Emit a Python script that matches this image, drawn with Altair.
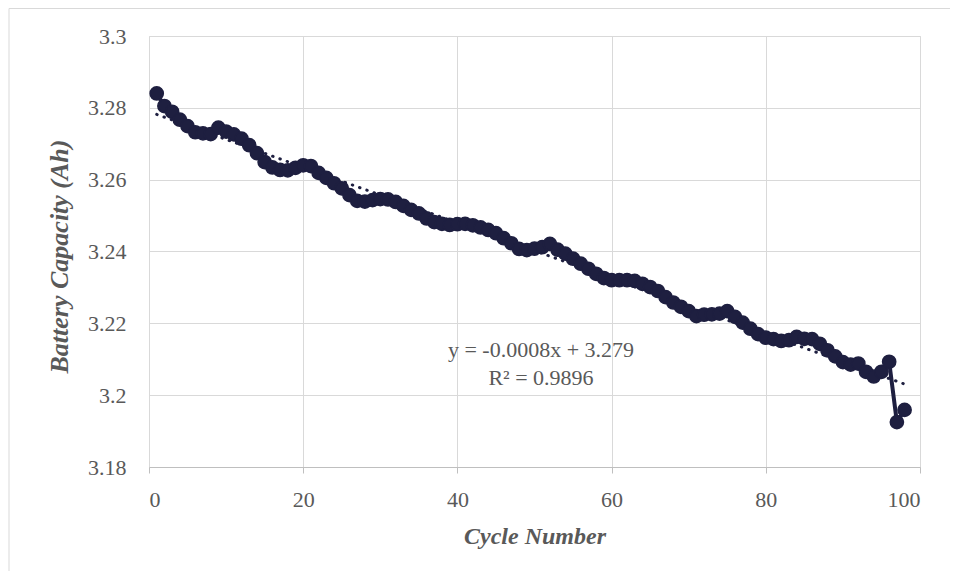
import altair as alt
import pandas as pd

# ---- data ----
cycles = list(range(1, 99))
capacity = [
    3.2840, 3.2805, 3.2789, 3.2767, 3.2749, 3.2732, 3.2729, 3.2727, 3.2745, 3.2734,
    3.2726, 3.2714, 3.2696, 3.2674, 3.2649, 3.2634, 3.2627, 3.2626, 3.2633, 3.2640,
    3.2638, 3.2619, 3.2605, 3.2590, 3.2576, 3.2557, 3.2541, 3.2539, 3.2543, 3.2546,
    3.2545, 3.2538, 3.2527, 3.2516, 3.2506, 3.2492, 3.2482, 3.2477, 3.2474, 3.2476,
    3.2477, 3.2473, 3.2467, 3.2460, 3.2451, 3.2437, 3.2423, 3.2407, 3.2404, 3.2408,
    3.2412, 3.2421, 3.2405, 3.2394, 3.2380, 3.2366, 3.2352, 3.2338, 3.2326, 3.2320,
    3.2320, 3.2320, 3.2318, 3.2310, 3.2301, 3.2290, 3.2273, 3.2258, 3.2246, 3.2234,
    3.2220, 3.2224, 3.2225, 3.2227, 3.2234, 3.2218, 3.2202, 3.2185, 3.2170, 3.2160,
    3.2156, 3.2151, 3.2153, 3.2162, 3.2157, 3.2156, 3.2143, 3.2125, 3.2108, 3.2092,
    3.2085, 3.2088, 3.2065, 3.2052, 3.2065, 3.2093, 3.1925, 3.1959,
]
x_ticks = [0, 20, 40, 60, 80, 100]
y_ticks = [3.18, 3.2, 3.22, 3.24, 3.26, 3.28, 3.3]
equation_lines = ["y = -0.0008x + 3.279", "R\u00b2 = 0.9896"]

df = pd.DataFrame({"cycle": cycles, "capacity": capacity})

NAVY = "#1e1f40"
GRAY_TXT = "#595959"
FONT = "Liberation Serif"

x_enc = alt.X(
    "cycle:Q",
    scale=alt.Scale(domain=[0, 100], nice=False, zero=False),
    axis=alt.Axis(
        values=x_ticks, title="Cycle Number", grid=True, gridColor="#d9d9d9",
        domainColor="#bfbfbf", tickColor="#bfbfbf", tickSize=6,
        labelFontSize=22, labelColor=GRAY_TXT, labelFont=FONT,
        labelBaseline="middle", labelPadding=26,
        titleFont=FONT, titleFontSize=24, titleFontStyle="italic",
        titleFontWeight="bold", titleColor=GRAY_TXT,
        titleBaseline="alphabetic", titleY=76,
    ),
)
y_enc = alt.Y(
    "capacity:Q",
    scale=alt.Scale(domain=[3.18, 3.3], nice=False, zero=False),
    axis=alt.Axis(
        values=y_ticks, title="Battery Capacity (Ah)", grid=True, gridColor="#d9d9d9",
        domain=False, ticks=False, labelFontSize=22, labelColor=GRAY_TXT,
        labelFont=FONT, labelPadding=23, labelExpr="format(datum.value, '')",
        titleFont=FONT, titleFontSize=26, titleFontStyle="italic",
        titleFontWeight="bold", titleColor=GRAY_TXT,
        titleAngle=270, titleAlign="center", titleBaseline="alphabetic",
        titleX=-82, titleY=220,
    ),
)

base = alt.Chart(df)

line = base.mark_line(color=NAVY, strokeWidth=4).encode(x=x_enc, y=y_enc)
points = base.mark_point(
    shape="circle", filled=True, color=NAVY, size=175, opacity=1,
    stroke=NAVY, strokeWidth=1.5,
).encode(x=x_enc, y=y_enc)
trend = (
    base.transform_regression("cycle", "capacity", method="linear")
    .mark_line(color=NAVY, strokeWidth=3, strokeDash=[0.5, 7.2], strokeCap="round")
    .encode(x=x_enc, y=y_enc)
)

ann1 = alt.Chart(pd.DataFrame({"line": [equation_lines[0]]})).mark_text(
    font=FONT, fontSize=22, color=GRAY_TXT, align="center", baseline="alphabetic"
).encode(text="line:N", x=alt.value(392), y=alt.value(321))
ann2 = alt.Chart(pd.DataFrame({"line": [equation_lines[1]]})).mark_text(
    font=FONT, fontSize=22, color=GRAY_TXT, align="center", baseline="alphabetic"
).encode(text="line:N", x=alt.value(392), y=alt.value(349))

# outer frame of the original figure (top and left edges)
frame_top = alt.Chart(pd.DataFrame({"k": [0]})).mark_rule(color="#d9d9d9", strokeWidth=1).encode(
    x=alt.value(-140), x2=alt.value(820), y=alt.value(-27.5)
)
frame_left = alt.Chart(pd.DataFrame({"k": [0]})).mark_rule(color="#d9d9d9", strokeWidth=1).encode(
    x=alt.value(-140), y=alt.value(-27.5), y2=alt.value(560)
)

chart = (
    alt.layer(line, trend, points, ann1, ann2, frame_top, frame_left)
    .properties(
        width=771,
        height=431,
        autosize=alt.AutoSizeParams(type="none"),
        padding={"left": 141, "top": 28, "right": 30, "bottom": 104},
    )
    .configure_view(stroke=None)
    .configure(background="white")
)

chart.save("out.html", embed_options={"renderer": "svg", "actions": False})
